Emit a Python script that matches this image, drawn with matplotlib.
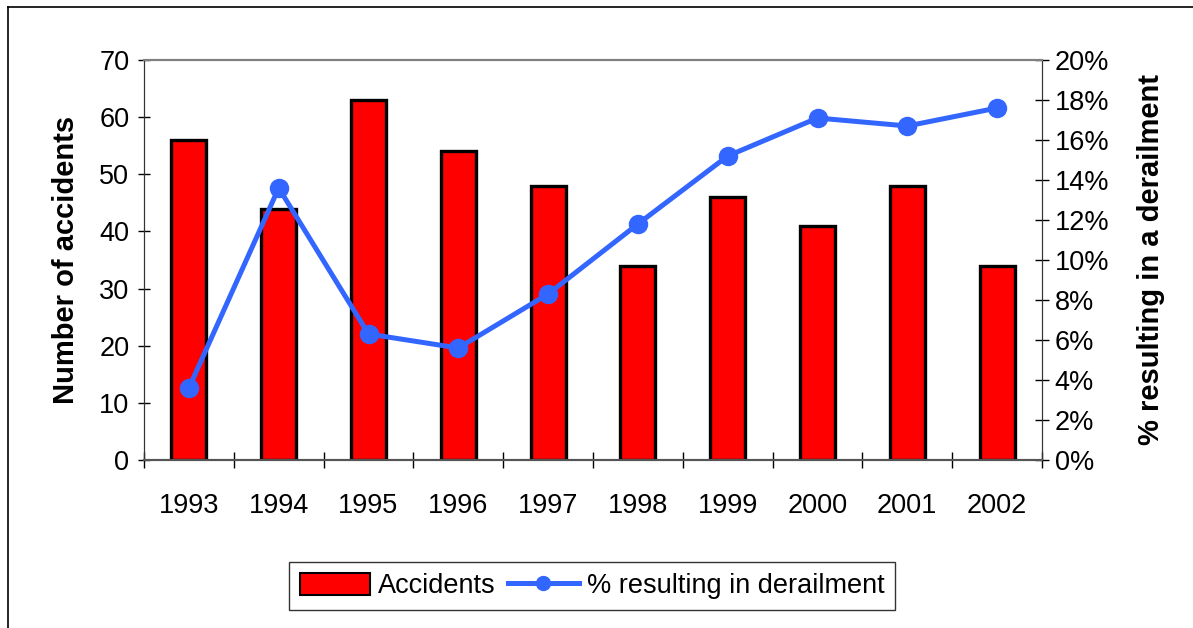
import numpy as np
import matplotlib.pyplot as plt
from matplotlib.lines import Line2D
from matplotlib.patches import Patch
from matplotlib.ticker import FixedLocator, PercentFormatter

plt.rcParams['font.family'] = ['Liberation Sans', 'DejaVu Sans']

years = ['1993', '1994', '1995', '1996', '1997', '1998', '1999', '2000', '2001', '2002']
accidents = [56, 44, 63, 54, 48, 34, 46, 41, 48, 34]
pct_derail = [3.6, 13.6, 6.3, 5.6, 8.3, 11.8, 15.2, 17.1, 16.7, 17.6]

W, H = 1193, 628
fig = plt.figure(figsize=(W / 100, H / 100), dpi=100)
ax = fig.add_axes([144 / W, 1 - 460 / H, (1042 - 144) / W, 400 / H])

x = np.arange(len(years))
ax.bar(x, accidents, width=0.39, color='#FF0000', edgecolor='black', linewidth=2.4, zorder=2)
ax.set_xlim(-0.5, len(years) - 0.5)
ax.set_ylim(0, 70)
ax.set_yticks(range(0, 71, 10))
ax.set_xticks(x)
ax.set_xticklabels(years)
ax.xaxis.set_minor_locator(FixedLocator(np.arange(-0.5, len(years), 1.0)))
ax.tick_params(axis='x', which='major', length=0, pad=24, labelsize=19.5)
ax.tick_params(axis='x', which='minor', direction='inout', length=12, width=1, color='black')
ax.tick_params(axis='y', direction='inout', length=9, width=1, labelsize=19.5, pad=6)
ax.set_ylabel('Number of accidents', fontsize=21, fontweight='bold', labelpad=14)

ax2 = ax.twinx()
ax2.plot(x, pct_derail, color='#3366FF', linewidth=3.6, marker='o', markersize=13, zorder=3)
ax2.set_ylim(0, 20)
ax2.set_yticks(range(0, 21, 2))
ax2.yaxis.set_major_formatter(PercentFormatter(decimals=0))
ax2.tick_params(axis='y', direction='inout', length=10, width=1, labelsize=19.5, pad=4)
ax2.set_ylabel('% resulting in a derailment', fontsize=21, fontweight='bold', labelpad=20)

for a in (ax, ax2):
    a.spines['top'].set_color('#808080')
    a.spines['top'].set_linewidth(1.5)
    a.spines['left'].set_color('#333333')
    a.spines['right'].set_color('#333333')
    a.spines['bottom'].set_color('#555555')
    a.spines['bottom'].set_linewidth(1.5)

handles = [Patch(facecolor='#FF0000', edgecolor='black', linewidth=1.5),
           Line2D([], [], color='#3366FF', linewidth=3.6, marker='o', markersize=10)]
leg = fig.legend(handles, ['Accidents', '% resulting in derailment'], loc='center',
                 bbox_to_anchor=(592 / W, 1 - 586 / H), ncol=2, fontsize=19.5,
                 frameon=True, fancybox=False, edgecolor='black', borderpad=0.4,
                 handlelength=2.6, handleheight=0.9, handletextpad=0.3, columnspacing=0.45)
leg.get_frame().set_linewidth(1)

# outer chart border
fig.add_artist(Line2D([8 / W, 1], [1 - 7 / H, 1 - 7 / H], color='black', linewidth=1.2))
fig.add_artist(Line2D([8 / W, 8 / W], [0, 1 - 7 / H], color='black', linewidth=1.2))

fig.savefig('out.png', dpi=100)
